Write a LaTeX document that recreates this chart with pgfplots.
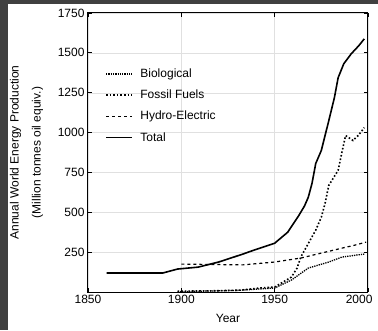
\documentclass[border=0pt]{standalone}
\usepackage{pgfplots}
\pgfplotsset{compat=1.18}
\usepackage{pgfplotstable}
\usepackage{fontspec}
\setmainfont{Liberation Sans}

\pgfplotstableread{
year val
1860 119
1890 119
1898 144
1909 156
1920 188
1933 238
1939 263
1950 306
1957 375
1963 481
1966 540
1968 594
1970 681
1972 806
1975 888
1979 1075
1982 1219
1984 1344
1987 1431
1991 1494
1995 1544
1998 1588
}\total

\pgfplotstableread{
year val
1898 5
1920 8
1932 12
1942 25
1950 31
1959 94
1962 150
1964 219
1969 325
1972 388
1975 469
1977 556
1979 669
1984 763
1986 875
1988 981
1992 950
1995 985
1998 1031
}\fossil

\pgfplotstableread{
year val
1900 175
1933 170
1950 188
1964 213
1975 244
1986 275
1993 294
1999 313
}\hydro

\pgfplotstableread{
year val
1898 2
1930 10
1950 25
1959 75
1968 150
1979 188
1986 219
1998 238
}\bio

\begin{document}
\begin{tikzpicture}[x=1pt,y=1pt]
\useasboundingbox (0,0) rectangle (378,330);
\fill[black!75] (0,0) rectangle (8,330);
\fill[black!75] (0,326) rectangle (378,330);
\begin{axis}[
  at={(88pt,38pt)}, anchor=south west,
  scale only axis, width=280pt, height=279pt,
  xmin=1850, xmax=2000, ymin=0, ymax=1750,
  xtick={1850,1900,1950},
  extra x ticks={2000},
  extra x tick style={xticklabel style={anchor=north east, xshift=8pt}},
  ytick={250,500,750,1000,1250,1500,1750},
  /pgf/number format/1000 sep={},
  /pgf/number format/assume math mode=true,
  tick label style={font=\fontsize{12}{14}\selectfont},
  grid=major,
  major grid style={black!12, line width=0.4pt},
  axis line style={line width=1pt},
  tick style={black, line width=0.8pt},
  xlabel={Year},
  xlabel style={font=\fontsize{12}{14}\selectfont, yshift=-3pt},
  ylabel={Annual World Energy Production\\(Million tonnes oil equiv.)},
  ylabel style={at={(axis description cs:-0.22,0.5)}, anchor=center, align=center, font=\fontsize{12}{22}\selectfont},
  legend style={at={(0.05,0.815)}, anchor=north west, draw=none, fill=none,
    font=\fontsize{12}{14}\selectfont, row sep=7pt, column sep=6pt},
  legend cell align=left,
  legend image post style={xscale=1.5},
]
\addplot[black, line width=1.3pt, densely dotted] table[x=year,y=val] {\bio};
\addlegendentry{Biological}
\addplot[black, line width=1.6pt, dotted] table[x=year,y=val] {\fossil};
\addlegendentry{Fossil Fuels}
\addplot[black, line width=1.2pt, dashed] table[x=year,y=val] {\hydro};
\addlegendentry{Hydro-Electric}
\addplot[black, line width=1.6pt] table[x=year,y=val] {\total};
\addlegendentry{Total}
\end{axis}
\end{tikzpicture}
\end{document}
